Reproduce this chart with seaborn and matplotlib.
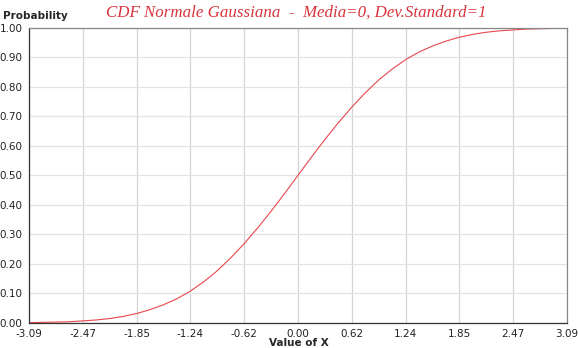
import numpy as np
import pandas as pd
import matplotlib
matplotlib.use('Agg')
import matplotlib.pyplot as plt
import seaborn as sns

# valori (CDF normale standard)
x_vals = [-3.09, -2.94, -2.78, -2.63, -2.47, -2.32, -2.16, -2.01, -1.85, -1.70,
          -1.55, -1.39, -1.24, -1.08, -0.93, -0.77, -0.62, -0.46, -0.31, -0.15,
          0.00, 0.15, 0.31, 0.46, 0.62, 0.77, 0.93, 1.08, 1.24, 1.39,
          1.55, 1.70, 1.85, 2.01, 2.16, 2.32, 2.47, 2.63, 2.78, 2.94, 3.09]
prob_vals = [0.001, 0.002, 0.003, 0.004, 0.007, 0.010, 0.015, 0.022, 0.032, 0.045,
             0.061, 0.082, 0.107, 0.140, 0.176, 0.221, 0.268, 0.323, 0.378, 0.440,
             0.500, 0.560, 0.622, 0.677, 0.732, 0.779, 0.824, 0.860, 0.893, 0.918,
             0.939, 0.955, 0.968, 0.978, 0.985, 0.990, 0.993, 0.996, 0.997, 0.998, 0.999]
x_ticks = [-3.09, -2.47, -1.85, -1.24, -0.62, 0.00, 0.62, 1.24, 1.85, 2.47, 3.09]
y_ticks = [0.0, 0.1, 0.2, 0.3, 0.4, 0.5, 0.6, 0.7, 0.8, 0.9, 1.0]

df = pd.DataFrame({'x': x_vals, 'p': prob_vals})

sns.set_style('white')
plt.rcParams['font.family'] = ['DejaVu Sans']

fig = plt.figure(figsize=(5.78, 3.48), dpi=100)
ax = fig.add_axes([0.050, 0.072, 0.931, 0.848])

sns.lineplot(data=df, x='x', y='p', ax=ax, color='#e8474c', linewidth=0.8)

ax.set_xlim(-3.09, 3.09)
ax.set_ylim(0, 1.0)
ax.set_xticks(x_ticks)
ax.set_xticklabels([f'{v:.2f}' for v in x_ticks], fontsize=7.5, color='#222222')
ax.set_yticks(y_ticks)
ax.set_yticklabels([f'{v:.2f}' for v in y_ticks], fontsize=7.5, color='#222222')
ax.tick_params(direction='inout', length=7, width=0.8, color='#333333', pad=1)
ax.grid(True, color='#e3e3e3', linewidth=0.9)
ax.xaxis.grid(True, color='#d4d4d4', linewidth=0.9)

for side in ['left', 'bottom']:
    ax.spines[side].set_color('#333333')
    ax.spines[side].set_linewidth(0.9)
for side in ['top', 'right']:
    ax.spines[side].set_color('#888888')
    ax.spines[side].set_linewidth(0.9)

ax.set_xlabel('')
ax.set_ylabel('')
fig.text(0.005, 0.955, 'Probability', fontsize=7.5, fontweight='bold', ha='left', va='center')
fig.text(0.517, 0.013, 'Value of X', fontsize=7.5, fontweight='bold', ha='center', va='center')
fig.text(0.513, 0.963, 'CDF Normale Gaussiana  -  Media=0, Dev.Standard=1',
         fontsize=12.2, style='italic', color='#d9343c', family=['Liberation Serif'],
         ha='center', va='center')

fig.savefig('out.png', dpi=100)
